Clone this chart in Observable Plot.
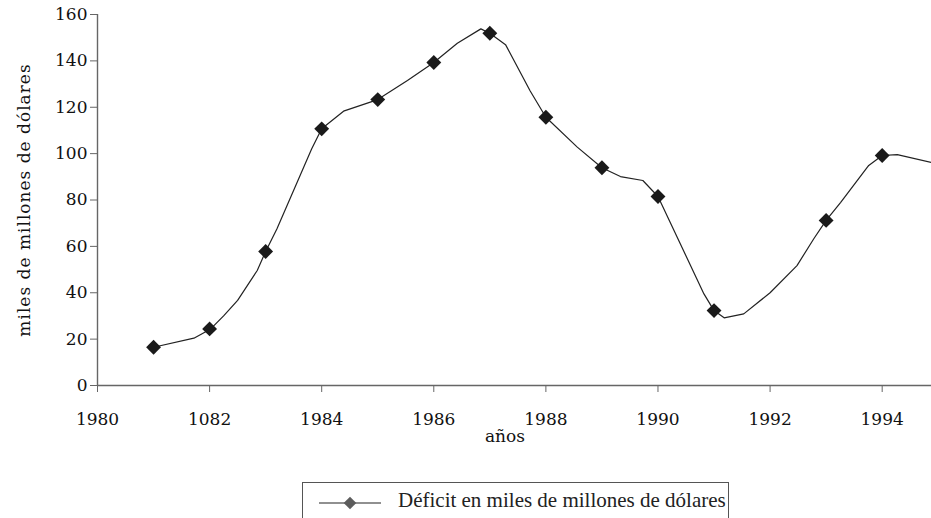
<!DOCTYPE html>
<html>
<head>
<meta charset="utf-8">
<script src="https://cdn.jsdelivr.net/npm/d3@7"></script>
<script src="https://cdn.jsdelivr.net/npm/@observablehq/plot@0.6"></script>
<style>
  html, body { margin: 0; padding: 0; background: #fff; }
  #wrap { position: relative; width: 931px; height: 518px; overflow: hidden; font-family: Liberation Serif, serif; }
  #legend { position: absolute; left: 302px; top: 482px; width: 425px; height: 35px; border: 1px solid #555; box-sizing: content-box; }
  #legend svg { position: absolute; left: 0; top: 0; }
  #legend span { position: absolute; left: 95px; top: 4px; font-size: 21px; color: #222; white-space: nowrap; line-height: 26px; }
</style>
</head>
<body>
<div id="wrap">
  <div id="chart"></div>
  <div id="legend">
    <svg width="425" height="35"><line x1="16" x2="78" y1="20" y2="20" stroke="#222" stroke-width="1.2"></line><path d="M47,13.7L53.3,20L47,26.3L40.7,20Z" fill="#5c5c5c"></path></svg>
    <span id="legendText"></span>
  </div>
</div>
<script>
// Yearly markers (no marker shown for 1992)
const markerYears  = [1981, 1982, 1983, 1984, 1985, 1986, 1987, 1988, 1989, 1990, 1991, 1993, 1994];
const markerValues = [16.5, 24.4, 57.8, 110.7, 123.3, 139.3, 151.9, 115.7, 93.9, 81.5, 32.3, 71.2, 99.2];

// Smoothed line vertices as drawn in the picture
const curveYears  = [1981, 1981.72, 1982.02, 1982.25, 1982.5, 1982.85, 1983, 1983.2, 1983.82, 1984, 1984.39, 1985, 1985.53, 1986, 1986.42, 1986.84, 1987, 1987.28, 1987.72, 1988, 1988.56, 1989, 1989.33, 1989.73, 1990, 1990.82, 1991, 1991.18, 1991.53, 1992, 1992.48, 1992.78, 1993, 1993.26, 1993.76, 1994, 1994.27, 1994.88];
const curveValues = [16.5, 20.4, 24.4, 30, 36.7, 49.6, 57.8, 67.5, 102, 110.7, 118.3, 123.3, 131.5, 139.3, 147.6, 153.8, 151.9, 147, 127, 115.7, 102.8, 93.9, 90.1, 88.4, 81.5, 39.5, 32.3, 29.2, 30.9, 40, 51.7, 63.3, 71.2, 79, 94.9, 99.2, 99.6, 96.2];

const xTicks = [1980, 1982, 1984, 1986, 1988, 1990, 1992, 1994];
const xTickLabels = ["1980", "1082", "1984", "1986", "1988", "1990", "1992", "1994"];
const yTicks = [0, 20, 40, 60, 80, 100, 120, 140, 160];

const yTitle = "miles de millones de dólares";
const xTitle = "años";
const seriesName = "Déficit en miles de millones de dólares";

const markers = markerYears.map((y, i) => ({year: y, value: markerValues[i]}));
const curve = curveYears.map((y, i) => ({year: y, value: curveValues[i]}));

const fam = "DejaVu Serif";

const plot = Plot.plot({
  width: 931,
  height: 465,
  marginLeft: 97,
  marginRight: 0,
  marginTop: 14,
  marginBottom: 80,
  style: "font-size:17px;color:#111;background:#fff;font-family:DejaVu Serif",
  x: {domain: [1980, 1994.88], axis: null},
  y: {domain: [0, 160], axis: null},
  marks: [
    Plot.axisY(yTicks, {tickSize: 7, tickPadding: 3, stroke: "#666", fill: "#111", fontFamily: fam, fontSize: 17, label: null, tickFormat: d => String(d)}),
    Plot.axisX(xTicks, {tickSize: 7, tickPadding: 20, stroke: "#666", fill: "#111", fontFamily: fam, fontSize: 17, label: null, tickFormat: d => xTickLabels[xTicks.indexOf(d)]}),
    Plot.ruleY([0], {stroke: "#666", strokeWidth: 1.4}),
    Plot.ruleX([1980], {stroke: "#666", strokeWidth: 1.4}),
    Plot.line(curve, {x: "year", y: "value", stroke: "#222", strokeWidth: 1.2}),
    Plot.dot(markers, {x: "year", y: "value", symbol: "diamond2", r: 6.7, fill: "#1a1a1a", stroke: "none"}),
    Plot.text([yTitle], {frameAnchor: "left", textAnchor: "middle", rotate: -90, dx: -73, fill: "#111", fontSize: 17, fontFamily: fam, lineAnchor: "middle"}),
    Plot.text([xTitle], {frameAnchor: "bottom", dx: -9.5, dy: 56, fill: "#111", fontSize: 17, fontFamily: fam})
  ]
});
document.getElementById("chart").appendChild(plot);
d3.select(plot).selectAll("text").filter(function() { return this.textContent === yTitle; }).attr("letter-spacing", "1");
document.getElementById("legendText").textContent = seriesName;
</script>
</body>
</html>
